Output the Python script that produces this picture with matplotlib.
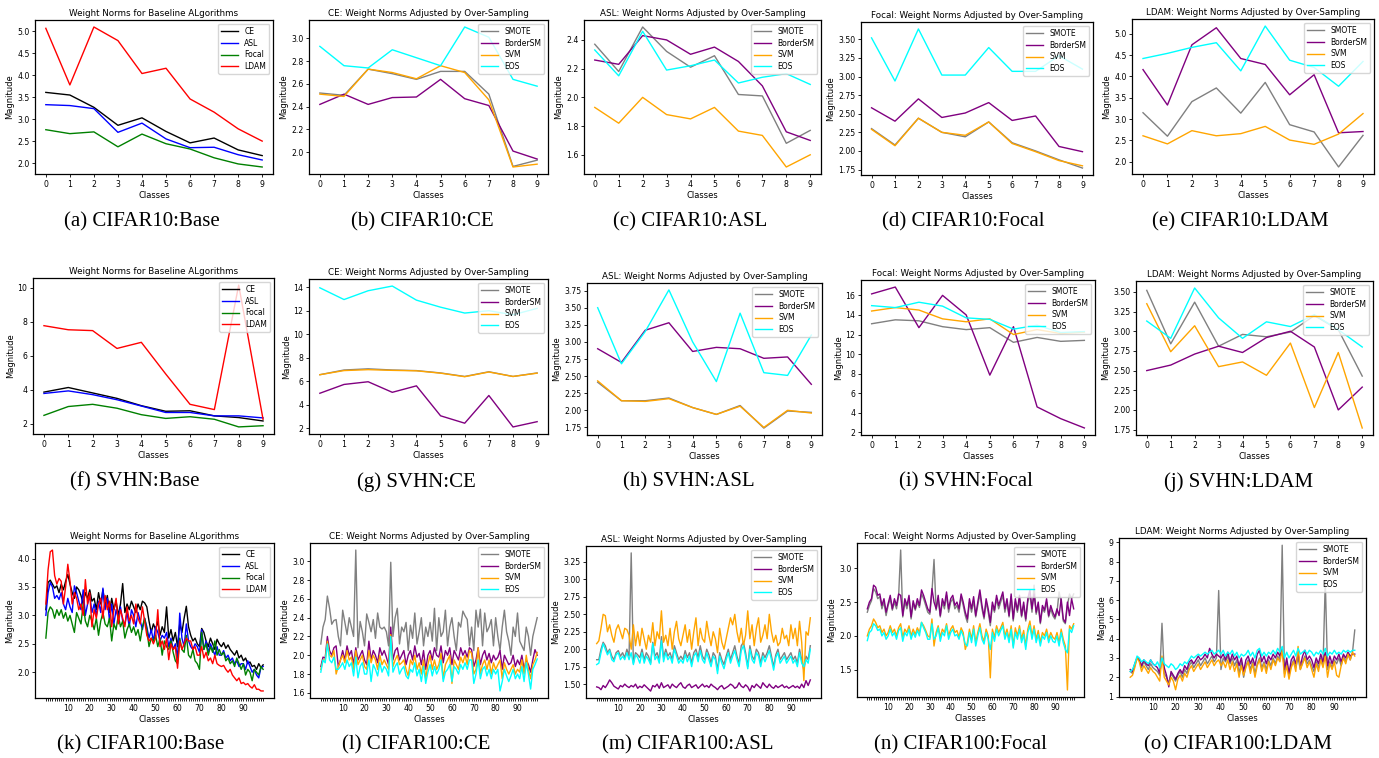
import matplotlib
matplotlib.use("Agg")
import matplotlib.pyplot as plt
from matplotlib.ticker import MultipleLocator

# ---------------- data ----------------
classes10 = list(range(10))
classes100 = list(range(100))

base_names = ["CE", "ASL", "Focal", "LDAM"]
os_names = ["SMOTE", "BorderSM", "SVM", "EOS"]

# CIFAR10
c10_base_ce = [3.61, 3.55, 3.27, 2.86, 3.03, 2.72, 2.46, 2.57, 2.30, 2.17]
c10_base_asl = [3.33, 3.31, 3.24, 2.70, 2.91, 2.55, 2.35, 2.36, 2.19, 2.07]
c10_base_focal = [2.76, 2.67, 2.71, 2.37, 2.66, 2.44, 2.32, 2.12, 1.98, 1.91]
c10_base_ldam = [5.07, 3.78, 5.10, 4.79, 4.04, 4.16, 3.46, 3.16, 2.78, 2.50]

c10_ce_smote = [2.52, 2.50, 2.73, 2.69, 2.64, 2.71, 2.71, 2.51, 1.875, 1.93]
c10_ce_border = [2.42, 2.51, 2.42, 2.48, 2.485, 2.64, 2.47, 2.41, 2.01, 1.94]
c10_ce_svm = [2.51, 2.49, 2.73, 2.70, 2.645, 2.76, 2.70, 2.46, 1.87, 1.895]
c10_ce_eos = [2.93, 2.76, 2.74, 2.90, 2.83, 2.76, 3.10, 3.01, 2.64, 2.58]

c10_asl_smote = [2.37, 2.18, 2.49, 2.32, 2.21, 2.29, 2.02, 2.01, 1.68, 1.77]
c10_asl_border = [2.26, 2.23, 2.43, 2.40, 2.30, 2.35, 2.25, 2.08, 1.76, 1.70]
c10_asl_svm = [1.93, 1.82, 2.00, 1.88, 1.85, 1.93, 1.765, 1.735, 1.515, 1.60]
c10_asl_eos = [2.33, 2.15, 2.46, 2.19, 2.22, 2.26, 2.10, 2.14, 2.165, 2.09]

c10_focal_smote = [2.30, 2.08, 2.44, 2.25, 2.19, 2.39, 2.11, 2.00, 1.88, 1.77]
c10_focal_border = [2.58, 2.40, 2.70, 2.45, 2.51, 2.65, 2.41, 2.47, 2.06, 1.99]
c10_focal_svm = [2.29, 2.07, 2.44, 2.25, 2.21, 2.39, 2.10, 1.99, 1.87, 1.80]
c10_focal_eos = [3.52, 2.94, 3.64, 3.02, 3.02, 3.39, 3.07, 3.07, 3.28, 3.10]

c10_ldam_smote = [3.15, 2.60, 3.41, 3.73, 3.14, 3.86, 2.87, 2.70, 1.88, 2.62]
c10_ldam_border = [4.16, 3.33, 4.74, 5.14, 4.42, 4.28, 3.57, 4.04, 2.68, 2.71]
c10_ldam_svm = [2.61, 2.42, 2.73, 2.61, 2.66, 2.83, 2.51, 2.41, 2.65, 3.13]
c10_ldam_eos = [4.42, 4.54, 4.68, 4.79, 4.13, 5.18, 4.38, 4.21, 3.77, 4.35]

# SVHN
svhn_base_ce = [3.85, 4.12, 3.80, 3.48, 3.05, 2.72, 2.75, 2.45, 2.35, 2.15]
svhn_base_asl = [3.77, 3.92, 3.70, 3.40, 3.03, 2.65, 2.65, 2.45, 2.45, 2.33]
svhn_base_focal = [2.48, 3.00, 3.13, 2.90, 2.52, 2.30, 2.40, 2.25, 1.80, 1.87]
svhn_base_ldam = [7.76, 7.52, 7.47, 6.42, 6.78, 4.92, 3.13, 2.82, 10.15, 2.25]

svhn_ce_smote = [6.55, 6.95, 7.05, 6.95, 6.90, 6.70, 6.40, 6.80, 6.40, 6.70]
svhn_ce_border = [4.97, 5.72, 5.95, 5.05, 5.60, 3.05, 2.42, 4.78, 2.10, 2.55]
svhn_ce_svm = [6.55, 6.90, 6.98, 6.92, 6.88, 6.68, 6.38, 6.78, 6.40, 6.68]
svhn_ce_eos = [13.95, 12.95, 13.70, 14.10, 12.90, 12.30, 11.80, 12.00, 11.65, 12.20]

svhn_asl_smote = [2.41, 2.14, 2.14, 2.18, 2.04, 1.94, 2.07, 1.74, 1.99, 1.97]
svhn_asl_border = [2.90, 2.70, 3.17, 3.28, 2.86, 2.92, 2.90, 2.76, 2.78, 2.38]
svhn_asl_svm = [2.43, 2.14, 2.13, 2.17, 2.04, 1.94, 2.06, 1.75, 2.00, 1.96]
svhn_asl_eos = [3.50, 2.68, 3.15, 3.76, 3.00, 2.42, 3.42, 2.55, 2.51, 3.10]

svhn_focal_smote = [13.1, 13.5, 13.4, 12.8, 12.5, 12.7, 11.2, 11.7, 11.3, 11.4]
svhn_focal_border = [16.15, 16.85, 12.7, 16.0, 14.0, 7.85, 12.8, 4.6, 3.4, 2.45]
svhn_focal_svm = [14.4, 14.75, 14.5, 13.6, 13.3, 13.6, 12.0, 12.5, 12.1, 12.25]
svhn_focal_eos = [14.95, 14.75, 15.3, 14.9, 13.7, 13.55, 12.55, 12.95, 12.2, 12.3]

svhn_ldam_smote = [3.52, 2.84, 3.37, 2.81, 2.96, 2.93, 2.99, 3.20, 3.02, 2.43]
svhn_ldam_border = [2.50, 2.57, 2.71, 2.81, 2.73, 2.92, 3.00, 2.80, 2.00, 2.29]
svhn_ldam_svm = [3.35, 2.74, 3.07, 2.55, 2.61, 2.44, 2.85, 2.03, 2.73, 1.77]
svhn_ldam_eos = [3.13, 2.91, 3.55, 3.17, 2.91, 3.12, 3.06, 3.21, 3.02, 2.80]

# CIFAR100 (100 classes)
c100_base_ce = [
    3.10, 3.58, 3.62, 3.55, 3.48, 3.52, 3.40, 3.55, 3.45, 3.60,
    3.72, 3.55, 3.40, 3.30, 3.50, 3.45, 3.35, 3.20, 3.40, 3.30,
    3.45, 3.25, 3.30, 3.10, 3.40, 3.20, 3.45, 3.15, 3.35, 3.05,
    3.30, 3.10, 3.25, 3.00, 3.20, 3.56, 3.05, 3.20, 3.10, 3.25,
    3.15, 3.05, 3.20, 3.10, 3.25, 3.22, 3.15, 2.90, 2.70, 2.85,
    2.75, 2.90, 2.65, 2.80, 2.70, 3.15, 2.60, 2.75, 2.55, 2.70,
    2.45, 2.85, 2.70, 2.95, 3.16, 2.80, 2.65, 2.55, 2.60, 2.50,
    2.45, 2.77, 2.70, 2.55, 2.45, 2.60, 2.50, 2.40, 2.58, 2.50,
    2.45, 2.52, 2.42, 2.48, 2.40, 2.35, 2.30, 2.38, 2.25, 2.30,
    2.20, 2.25, 2.15, 2.18, 2.10, 2.12, 2.05, 2.15, 2.08, 2.13]
c100_base_asl = [
    3.00, 3.40, 3.58, 3.50, 3.30, 3.35, 3.28, 3.40, 3.20, 3.10,
    3.30, 3.15, 3.05, 3.52, 3.40, 3.25, 3.10, 3.45, 3.00, 3.20,
    3.35, 3.05, 3.20, 3.00, 3.25, 3.05, 3.48, 3.10, 3.30, 2.90,
    3.20, 2.85, 3.10, 2.95, 3.15, 2.90, 2.85, 3.05, 2.80, 3.10,
    3.00, 2.80, 3.05, 2.90, 2.75, 2.95, 2.80, 2.60, 2.75, 2.55,
    2.80, 2.70, 2.55, 2.65, 2.60, 2.70, 2.45, 2.60, 2.40, 2.50,
    2.25, 3.04, 2.60, 2.45, 2.85, 2.55, 2.45, 2.40, 2.50, 2.45,
    2.35, 2.75, 2.40, 2.55, 2.35, 2.50, 2.40, 2.30, 2.45, 2.30,
    2.30, 2.38, 2.25, 2.30, 2.20, 2.25, 2.15, 2.20, 2.10, 2.15,
    2.15, 2.05, 2.20, 2.10, 2.00, 2.05, 1.95, 1.90, 2.08, 2.10]
c100_base_focal = [
    2.60, 3.05, 3.15, 3.10, 2.95, 3.10, 3.00, 3.10, 2.95, 3.05,
    2.90, 3.00, 2.85, 2.70, 3.05, 2.95, 2.85, 3.20, 2.90, 2.80,
    3.00, 2.90, 2.75, 2.95, 2.65, 2.90, 3.05, 2.85, 2.80, 2.95,
    2.55, 2.85, 2.75, 3.00, 2.80, 2.90, 2.60, 2.75, 2.85, 2.70,
    2.80, 2.65, 2.75, 2.55, 2.80, 2.95, 2.75, 2.45, 2.60, 2.55,
    2.65, 2.45, 2.60, 2.30, 2.55, 2.45, 2.40, 2.55, 2.35, 2.20,
    2.15, 2.60, 2.40, 2.35, 2.65, 2.30, 2.25, 2.40, 2.20, 2.15,
    2.05, 2.70, 2.40, 2.50, 2.30, 2.45, 2.35, 2.55, 2.30, 2.40,
    2.30, 2.35, 2.20, 2.25, 2.15, 2.20, 2.10, 2.25, 2.15, 2.05,
    2.15, 1.95, 2.05, 2.00, 1.85, 2.05, 2.00, 1.95, 2.10, 2.05]
c100_base_ldam = [
    3.20, 3.80, 4.12, 4.15, 3.70, 3.55, 3.65, 3.60, 3.20, 3.50,
    3.90, 3.60, 3.20, 3.40, 3.30, 3.10, 3.20, 3.00, 3.63, 3.20,
    3.40, 2.80, 3.10, 2.95, 3.20, 3.30, 2.95, 3.35, 3.10, 3.25,
    2.80, 3.10, 3.30, 2.85, 3.10, 2.95, 2.80, 3.15, 2.90, 3.00,
    2.85, 3.20, 2.95, 2.85, 3.15, 2.90, 2.65, 2.55, 2.60, 2.50,
    2.60, 3.10, 2.45, 2.55, 2.40, 2.60, 2.22, 2.50, 2.40, 2.45,
    2.07, 2.55, 2.40, 2.50, 2.60, 2.55, 2.55, 2.40, 2.45, 2.30,
    2.30, 2.45, 2.25, 2.35, 2.20, 2.25, 2.15, 2.30, 2.15, 2.12,
    2.10, 2.12, 2.05, 2.00, 2.05, 1.95, 1.90, 1.85, 1.90, 1.80,
    1.82, 1.78, 1.80, 1.75, 1.72, 1.78, 1.70, 1.70, 1.67, 1.67]

c100_ce_smote = [
    2.12, 2.30, 2.38, 2.63, 2.50, 2.33, 2.37, 2.38, 2.20, 2.10,
    2.48, 2.35, 2.22, 2.40, 2.30, 2.20, 3.12, 2.08, 2.36, 2.25,
    2.10, 2.44, 2.35, 2.25, 2.38, 2.18, 2.45, 2.30, 2.28, 2.30,
    2.25, 2.10, 2.99, 2.20, 2.40, 2.50, 2.12, 2.30, 2.25, 2.35,
    2.05, 2.32, 2.18, 2.45, 2.12, 2.25, 2.40, 2.10, 2.30, 2.20,
    2.35, 2.15, 2.50, 2.05, 2.40, 2.20, 2.25, 2.48, 2.10, 2.30,
    2.40, 2.20, 2.05, 2.35, 2.30, 2.47, 2.42, 2.38, 2.10, 2.30,
    2.05, 2.48, 2.30, 2.49, 2.10, 2.45, 2.25, 2.30, 2.38, 2.10,
    2.40, 2.20, 2.05, 2.30, 2.48, 2.25, 2.15, 2.00, 2.30, 2.20,
    2.45, 2.15, 2.10, 2.05, 2.30, 2.20, 2.00, 2.20, 2.30, 2.40]
c100_ce_border = [
    1.88, 1.98, 1.97, 2.20, 2.05, 2.00, 2.08, 2.10, 1.88, 1.95,
    2.05, 1.95, 2.10, 2.00, 2.05, 1.90, 2.08, 1.95, 2.00, 2.05,
    1.95, 1.90, 2.15, 1.95, 2.05, 2.00, 1.92, 2.08, 2.00, 2.05,
    1.98, 1.90, 2.30, 1.95, 2.05, 2.08, 1.95, 2.00, 2.05, 1.90,
    2.00, 2.05, 1.95, 2.10, 1.98, 2.02, 1.90, 2.05, 1.85, 2.00,
    2.05, 1.95, 2.08, 2.00, 1.98, 2.10, 1.92, 2.05, 2.00, 2.08,
    1.90, 2.05, 2.00, 1.95, 2.08, 2.00, 2.05, 1.98, 2.08, 2.06,
    1.88, 1.95, 2.08, 1.90, 2.00, 2.05, 1.95, 2.02, 1.92, 2.00,
    1.95, 1.98, 2.05, 1.85, 2.00, 1.95, 1.90, 1.92, 2.00, 1.88,
    1.95, 1.90, 2.00, 1.85, 1.95, 1.90, 1.82, 1.95, 2.06, 2.00]
c100_ce_svm = [
    1.85, 1.95, 1.95, 2.15, 2.00, 1.98, 2.05, 1.80, 1.88, 1.95,
    2.00, 1.92, 2.05, 1.95, 1.98, 1.85, 2.05, 1.90, 1.95, 2.00,
    1.88, 1.85, 2.05, 1.92, 2.00, 1.95, 1.85, 2.00, 1.90, 1.95,
    1.90, 1.85, 2.22, 1.88, 1.95, 2.00, 1.90, 1.92, 1.95, 1.85,
    1.78, 1.95, 1.90, 2.00, 1.85, 1.92, 1.80, 1.95, 1.75, 1.90,
    2.00, 1.85, 1.95, 1.85, 1.90, 2.02, 1.75, 1.90, 1.95, 2.00,
    1.70, 1.95, 1.90, 1.85, 1.98, 1.92, 2.00, 1.90, 2.05, 2.02,
    1.80, 1.85, 2.08, 1.80, 1.90, 1.95, 1.85, 1.95, 1.80, 1.92,
    1.85, 1.90, 1.95, 1.75, 1.92, 1.85, 1.80, 1.85, 1.90, 1.80,
    1.85, 1.82, 1.95, 1.80, 2.00, 1.85, 1.75, 1.90, 1.95, 2.03]
c100_ce_eos = [
    1.82, 1.95, 1.92, 2.12, 1.95, 1.92, 1.98, 1.85, 1.85, 1.88,
    1.92, 1.85, 1.95, 1.88, 1.92, 1.78, 1.98, 1.76, 1.88, 1.92,
    1.80, 1.80, 1.95, 1.72, 1.90, 1.85, 1.78, 1.92, 1.82, 1.88,
    1.85, 1.78, 2.20, 1.82, 1.88, 1.92, 1.80, 1.85, 1.88, 1.78,
    1.75, 1.85, 1.82, 1.92, 1.78, 1.85, 1.72, 1.88, 1.70, 1.82,
    1.90, 1.78, 1.88, 1.80, 1.85, 1.95, 1.72, 1.82, 1.85, 1.90,
    1.72, 1.88, 1.85, 1.80, 1.90, 1.85, 1.92, 1.85, 1.95, 1.95,
    1.70, 1.80, 1.95, 1.75, 1.85, 1.88, 1.78, 1.85, 1.75, 1.85,
    1.80, 1.85, 1.62, 1.72, 1.85, 1.78, 1.72, 1.78, 1.85, 1.75,
    1.80, 1.75, 1.88, 1.72, 1.92, 1.80, 1.64, 1.85, 1.90, 1.96]

c100_asl_smote = [
    1.85, 1.85, 2.00, 2.10, 2.05, 1.95, 2.00, 1.90, 1.85, 1.95,
    1.98, 1.90, 1.95, 1.88, 2.00, 1.90, 3.38, 1.80, 1.95, 1.92,
    1.88, 2.00, 1.85, 1.95, 1.90, 1.80, 2.10, 1.90, 1.95, 1.85,
    2.18, 1.88, 2.00, 1.90, 1.95, 1.85, 2.05, 1.95, 1.85, 1.90,
    1.85, 1.98, 1.88, 1.95, 1.80, 1.95, 2.00, 1.88, 2.05, 1.90,
    1.85, 2.00, 1.92, 1.80, 1.95, 1.90, 1.70, 1.95, 1.85, 1.78,
    1.90, 2.00, 1.85, 1.95, 2.05, 1.90, 1.80, 2.05, 2.10, 1.95,
    1.75, 2.05, 1.90, 1.85, 2.00, 1.95, 1.80, 1.95, 1.88, 1.95,
    2.05, 1.90, 1.75, 1.92, 2.00, 1.85, 1.90, 1.95, 1.85, 1.90,
    1.95, 1.85, 1.90, 1.80, 2.00, 1.85, 1.70, 1.90, 1.85, 2.05]
c100_asl_border = [
    1.46, 1.45, 1.42, 1.48, 1.45, 1.50, 1.56, 1.52, 1.47, 1.45,
    1.43, 1.48, 1.46, 1.50, 1.47, 1.45, 1.48, 1.46, 1.50, 1.44,
    1.47, 1.45, 1.49, 1.46, 1.43, 1.40, 1.48, 1.46, 1.50, 1.44,
    1.52, 1.45, 1.47, 1.49, 1.44, 1.50, 1.47, 1.45, 1.49, 1.52,
    1.46, 1.44, 1.48, 1.50, 1.45, 1.47, 1.49, 1.44, 1.47, 1.50,
    1.46, 1.48, 1.45, 1.50, 1.47, 1.45, 1.42, 1.46, 1.48, 1.43,
    1.45, 1.47, 1.50, 1.48, 1.44, 1.46, 1.52, 1.47, 1.45, 1.49,
    1.46, 1.40, 1.48, 1.45, 1.50, 1.47, 1.44, 1.52, 1.48, 1.45,
    1.50, 1.46, 1.44, 1.48, 1.45, 1.47, 1.49, 1.45, 1.47, 1.44,
    1.46, 1.48, 1.45, 1.47, 1.44, 1.50, 1.45, 1.55, 1.48, 1.56]
c100_asl_svm = [
    2.08, 2.12, 2.30, 2.50, 2.48, 2.25, 2.35, 2.20, 2.10, 2.28,
    2.35, 2.25, 2.15, 2.30, 2.28, 2.20, 2.00, 2.35, 2.05, 2.25,
    2.05, 2.30, 2.15, 2.00, 2.20, 2.10, 2.38, 2.05, 2.25, 2.15,
    2.55, 2.10, 2.20, 2.05, 2.30, 2.00, 2.25, 2.40, 2.15, 2.05,
    2.20, 2.35, 2.10, 2.28, 2.00, 2.25, 2.45, 2.05, 2.30, 2.15,
    2.10, 2.40, 2.20, 2.05, 2.25, 2.15, 1.95, 2.30, 2.10, 2.00,
    2.15, 2.30, 2.45, 2.35, 2.50, 2.25, 2.10, 2.30, 2.05, 2.20,
    2.55, 2.15, 2.35, 2.05, 2.30, 2.45, 2.10, 2.20, 2.35, 2.15,
    2.50, 2.25, 2.10, 2.20, 2.05, 2.10, 2.30, 2.15, 2.20, 2.05,
    2.35, 2.15, 2.30, 2.05, 2.40, 2.10, 1.55, 2.25, 2.20, 2.45]
c100_asl_eos = [
    1.78, 1.80, 1.95, 2.08, 2.00, 1.92, 1.98, 1.85, 1.82, 1.92,
    1.95, 1.85, 1.90, 1.85, 1.95, 1.85, 1.95, 1.78, 1.92, 1.88,
    1.80, 1.95, 1.80, 1.90, 1.85, 1.78, 2.08, 1.85, 1.90, 1.80,
    2.12, 1.82, 1.95, 1.85, 1.90, 1.80, 2.00, 1.90, 1.80, 1.85,
    1.80, 1.92, 1.82, 1.90, 1.75, 1.90, 1.95, 1.82, 1.98, 1.85,
    1.80, 1.95, 1.85, 1.75, 1.90, 1.85, 1.65, 1.90, 1.80, 1.72,
    1.85, 1.95, 1.80, 1.90, 1.98, 1.85, 1.75, 1.98, 2.05, 1.90,
    1.72, 2.00, 1.85, 1.80, 1.95, 1.90, 1.75, 1.90, 1.82, 1.90,
    1.98, 1.85, 1.70, 1.88, 1.95, 1.80, 1.85, 1.90, 1.80, 1.85,
    1.90, 1.80, 1.85, 1.75, 1.95, 1.80, 1.75, 1.85, 1.80, 2.00]

c100_focal_smote = [
    2.35, 2.45, 2.52, 2.70, 2.65, 2.55, 2.58, 2.40, 2.50, 2.30,
    2.45, 2.55, 2.38, 2.50, 2.40, 2.58, 3.27, 2.28, 2.50, 2.40,
    2.55, 2.25, 2.48, 2.38, 2.50, 2.42, 2.62, 2.55, 2.45, 2.35,
    2.32, 2.65, 3.13, 2.38, 2.55, 2.28, 2.50, 2.40, 2.60, 2.35,
    2.50, 2.55, 2.40, 2.45, 2.35, 2.58, 2.45, 2.30, 2.20, 2.50,
    2.35, 2.52, 2.28, 2.45, 2.62, 2.40, 2.25, 2.50, 2.35, 2.15,
    2.45, 2.35, 2.55, 2.40, 2.50, 2.60, 2.35, 2.50, 2.28, 2.58,
    2.22, 2.50, 2.35, 2.55, 2.28, 2.45, 2.22, 2.50, 2.62, 2.35,
    2.75, 2.32, 2.45, 2.18, 2.40, 2.35, 2.50, 2.28, 2.40, 2.30,
    2.25, 2.35, 2.65, 2.50, 2.22, 2.18, 2.45, 2.62, 2.55, 2.62]
c100_focal_border = [
    2.40, 2.50, 2.55, 2.75, 2.72, 2.60, 2.62, 2.45, 2.55, 2.35,
    2.48, 2.60, 2.40, 2.55, 2.45, 2.62, 2.60, 2.30, 2.55, 2.45,
    2.60, 2.28, 2.52, 2.40, 2.55, 2.45, 2.68, 2.60, 2.50, 2.40,
    2.35, 2.70, 2.50, 2.40, 2.60, 2.30, 2.55, 2.45, 2.65, 2.40,
    2.55, 2.60, 2.45, 2.50, 2.40, 2.62, 2.50, 2.35, 2.25, 2.55,
    2.40, 2.58, 2.30, 2.50, 2.68, 2.45, 2.28, 2.55, 2.40, 2.20,
    2.50, 2.38, 2.60, 2.45, 2.55, 2.65, 2.40, 2.55, 2.30, 2.62,
    2.25, 2.55, 2.38, 2.60, 2.30, 2.50, 2.25, 2.55, 2.68, 2.40,
    2.62, 2.35, 2.50, 2.20, 2.45, 2.38, 2.55, 2.30, 2.45, 2.35,
    2.28, 2.40, 2.30, 2.55, 2.25, 2.20, 2.50, 2.30, 2.55, 2.40]
c100_focal_svm = [
    2.00, 2.10, 2.15, 2.25, 2.20, 2.12, 2.15, 2.05, 2.10, 2.00,
    2.05, 2.15, 2.05, 2.10, 2.00, 2.12, 2.18, 1.98, 2.10, 2.05,
    2.15, 2.00, 2.10, 2.02, 2.12, 2.05, 2.20, 2.15, 2.08, 2.00,
    1.98, 2.25, 1.85, 2.05, 2.15, 1.98, 2.10, 2.05, 2.18, 2.00,
    2.10, 2.15, 2.05, 2.08, 1.98, 2.12, 2.05, 1.80, 1.90, 2.10,
    1.95, 2.15, 1.90, 2.05, 2.18, 2.00, 1.92, 2.10, 2.00, 1.38,
    2.10, 1.98, 2.15, 2.05, 2.12, 2.20, 2.00, 2.10, 1.95, 2.15,
    1.85, 2.12, 2.00, 2.15, 1.95, 2.08, 1.85, 2.10, 2.22, 2.00,
    2.15, 1.95, 2.08, 1.90, 2.05, 2.00, 2.10, 1.95, 2.05, 1.98,
    1.95, 2.05, 1.90, 2.10, 1.95, 1.85, 1.20, 2.15, 2.10, 2.18]
c100_focal_eos = [
    1.93, 2.05, 2.08, 2.18, 2.15, 2.08, 2.10, 2.00, 2.05, 1.95,
    2.00, 2.10, 2.00, 2.05, 1.95, 2.08, 2.12, 1.92, 2.05, 2.00,
    2.10, 1.95, 2.05, 1.98, 2.08, 2.00, 2.20, 2.12, 2.05, 1.95,
    1.95, 2.18, 1.95, 2.00, 2.12, 1.92, 2.05, 2.00, 2.15, 1.95,
    2.05, 2.10, 2.00, 2.02, 1.95, 2.08, 2.00, 1.88, 1.85, 2.05,
    1.90, 2.10, 1.85, 2.00, 2.12, 1.95, 1.88, 2.05, 1.95, 1.80,
    2.05, 1.92, 2.10, 2.00, 2.08, 2.15, 1.95, 2.05, 1.90, 2.10,
    1.82, 2.05, 1.95, 2.10, 1.90, 2.02, 1.80, 2.05, 2.15, 1.95,
    2.10, 1.90, 2.02, 1.85, 2.00, 1.95, 2.05, 1.90, 2.00, 1.92,
    1.90, 2.00, 1.85, 2.05, 1.90, 1.80, 1.75, 2.10, 2.05, 2.15]

c100_ldam_smote = [
    2.30, 2.20, 2.60, 3.00, 2.90, 2.50, 2.80, 2.60, 2.40, 2.70,
    2.50, 2.40, 2.30, 2.10, 4.80, 2.20, 2.00, 1.70, 2.20, 2.00,
    1.80, 2.10, 2.30, 2.00, 2.40, 2.20, 2.60, 2.80, 2.50, 2.70,
    2.90, 2.60, 2.80, 3.00, 2.70, 2.90, 3.10, 2.80, 3.00, 6.50,
    2.40, 3.00, 2.80, 3.10, 2.70, 3.00, 2.60, 2.90, 2.20, 2.80,
    2.00, 2.60, 2.90, 2.40, 2.80, 2.20, 2.70, 3.00, 2.50, 2.80,
    2.40, 2.90, 2.60, 3.00, 2.70, 3.10, 2.90, 8.85, 2.20, 2.80,
    2.10, 2.60, 2.90, 2.50, 3.00, 2.40, 2.80, 3.10, 2.70, 2.90,
    2.60, 2.30, 2.80, 2.50, 3.00, 2.60, 7.00, 2.40, 2.80, 2.50,
    2.90, 2.70, 3.00, 2.60, 3.10, 2.80, 3.20, 2.90, 3.30, 4.45]
c100_ldam_border = [
    2.40, 2.30, 2.70, 3.00, 2.90, 2.60, 2.90, 2.70, 2.60, 2.90,
    2.70, 2.60, 2.50, 2.20, 3.00, 2.50, 2.10, 1.50, 2.30, 2.10,
    1.90, 2.20, 2.40, 2.20, 2.60, 2.40, 2.80, 2.90, 2.70, 2.90,
    3.10, 2.90, 3.00, 3.20, 3.00, 3.50, 3.20, 3.00, 3.20, 3.10,
    3.00, 3.20, 2.90, 3.30, 2.80, 3.20, 2.90, 3.10, 2.60, 3.00,
    2.30, 2.90, 3.10, 2.70, 3.00, 2.60, 3.20, 3.40, 2.80, 3.10,
    2.70, 3.10, 2.90, 3.20, 3.00, 3.30, 3.10, 3.50, 2.40, 3.00,
    2.20, 2.90, 3.10, 2.70, 3.20, 2.60, 3.10, 3.40, 2.90, 3.10,
    2.90, 2.50, 3.00, 2.70, 3.20, 2.80, 3.30, 2.60, 3.10, 2.70,
    3.10, 2.90, 3.20, 2.80, 3.20, 3.00, 3.30, 3.10, 3.20, 3.20]
c100_ldam_svm = [
    2.00, 2.10, 2.50, 3.00, 2.80, 2.30, 2.60, 2.40, 2.20, 2.50,
    2.30, 2.20, 2.00, 1.80, 3.10, 2.00, 1.80, 1.60, 2.00, 1.80,
    1.35, 1.90, 2.10, 1.80, 2.20, 2.00, 2.40, 2.60, 2.30, 2.50,
    2.70, 2.40, 2.60, 2.80, 2.50, 2.70, 2.90, 2.60, 2.80, 2.90,
    2.60, 2.80, 2.50, 2.90, 2.40, 2.80, 2.30, 2.70, 2.00, 2.60,
    2.10, 2.50, 2.80, 2.20, 2.70, 2.00, 2.60, 2.90, 2.30, 2.70,
    2.20, 2.80, 2.40, 2.90, 2.60, 3.00, 2.80, 3.40, 2.00, 2.60,
    1.90, 2.50, 2.80, 2.30, 3.60, 2.40, 2.70, 3.00, 2.50, 2.80,
    2.40, 2.00, 2.70, 2.30, 2.90, 2.50, 3.10, 2.00, 2.70, 2.40,
    2.80, 2.10, 2.00, 2.60, 3.00, 2.70, 3.20, 2.90, 3.30, 3.10]
c100_ldam_eos = [
    2.30, 2.40, 2.70, 3.10, 3.00, 2.80, 2.90, 2.80, 2.70, 2.90,
    2.70, 2.60, 2.80, 2.50, 3.00, 2.70, 2.60, 2.50, 2.70, 2.60,
    2.40, 2.50, 2.70, 2.60, 2.80, 2.70, 2.90, 3.10, 3.00, 3.10,
    3.20, 3.10, 3.20, 3.30, 3.20, 3.30, 3.40, 3.20, 3.30, 3.40,
    3.20, 3.40, 3.10, 3.30, 3.20, 3.40, 3.10, 3.30, 3.00, 3.20,
    3.10, 3.20, 3.40, 3.10, 3.30, 3.00, 3.40, 3.50, 3.10, 3.30,
    3.10, 3.30, 3.20, 3.40, 3.20, 3.50, 3.30, 3.60, 3.00, 3.30,
    3.00, 3.20, 3.40, 3.10, 3.50, 3.20, 3.30, 3.40, 3.20, 3.40,
    3.30, 3.10, 3.30, 3.20, 3.40, 3.20, 3.50, 3.10, 3.30, 3.20,
    3.40, 3.20, 3.30, 3.20, 3.40, 3.30, 3.40, 3.30, 3.40, 3.40]

base_colors = ["black", "blue", "green", "red"]
os_colors = ["gray", "purple", "orange", "cyan"]

title_base = "Weight Norms for Baseline ALgorithms"
title_os = "{}: Weight Norms Adjusted by Over-Sampling"

# panel specs: (caption, title, series, names, colors, x, y step, box px (l,t,r,b), caption x)
panels = [
    ("(a) CIFAR10:Base", title_base, [c10_base_ce, c10_base_asl, c10_base_focal, c10_base_ldam],
     base_names, base_colors, classes10, 0.5, (35, 20, 273, 174), 142),
    ("(b) CIFAR10:CE", title_os.format("CE"), [c10_ce_smote, c10_ce_border, c10_ce_svm, c10_ce_eos],
     os_names, os_colors, classes10, 0.2, (309, 20, 548, 174), 422),
    ("(c) CIFAR10:ASL", title_os.format("ASL"), [c10_asl_smote, c10_asl_border, c10_asl_svm, c10_asl_eos],
     os_names, os_colors, classes10, 0.2, (584, 20, 821, 174), 690),
    ("(d) CIFAR10:Focal", title_os.format("Focal"), [c10_focal_smote, c10_focal_border, c10_focal_svm, c10_focal_eos],
     os_names, os_colors, classes10, 0.25, (861, 22, 1093, 175), 963),
    ("(e) CIFAR10:LDAM", title_os.format("LDAM"), [c10_ldam_smote, c10_ldam_border, c10_ldam_svm, c10_ldam_eos],
     os_names, os_colors, classes10, 0.5, (1132, 19, 1374, 174), 1240),
    ("(f) SVHN:Base", title_base, [svhn_base_ce, svhn_base_asl, svhn_base_focal, svhn_base_ldam],
     base_names, base_colors, classes10, 2, (33, 278, 274, 434), 135),
    ("(g) SVHN:CE", title_os.format("CE"), [svhn_ce_smote, svhn_ce_border, svhn_ce_svm, svhn_ce_eos],
     os_names, os_colors, classes10, 2, (309, 279, 548, 434), 416),
    ("(h) SVHN:ASL", title_os.format("ASL"), [svhn_asl_smote, svhn_asl_border, svhn_asl_svm, svhn_asl_eos],
     os_names, os_colors, classes10, 0.25, (587, 283, 822, 435), 689),
    ("(i) SVHN:Focal", title_os.format("Focal"), [svhn_focal_smote, svhn_focal_border, svhn_focal_svm, svhn_focal_eos],
     os_names, os_colors, classes10, 2, (861, 280, 1095, 435), 966),
    ("(j) SVHN:LDAM", title_os.format("LDAM"), [svhn_ldam_smote, svhn_ldam_border, svhn_ldam_svm, svhn_ldam_eos],
     os_names, os_colors, classes10, 0.25, (1136, 281, 1373, 435), 1239),
    ("(k) CIFAR100:Base", title_base, [c100_base_ce, c100_base_asl, c100_base_focal, c100_base_ldam],
     base_names, base_colors, classes100, 0.5, (35, 543, 274, 698), 141),
    ("(l) CIFAR100:CE", title_os.format("CE"), [c100_ce_smote, c100_ce_border, c100_ce_svm, c100_ce_eos],
     os_names, os_colors, classes100, 0.2, (310, 543, 548, 698), 416),
    ("(m) CIFAR100:ASL", title_os.format("ASL"), [c100_asl_smote, c100_asl_border, c100_asl_svm, c100_asl_eos],
     os_names, os_colors, classes100, 0.25, (586, 546, 821, 698), 688),
    ("(n) CIFAR100:Focal", title_os.format("Focal"), [c100_focal_smote, c100_focal_border, c100_focal_svm, c100_focal_eos],
     os_names, os_colors, classes100, 0.5, (857, 543, 1084, 697), 960),
    ("(o) CIFAR100:LDAM", title_os.format("LDAM"), [c100_ldam_smote, c100_ldam_border, c100_ldam_svm, c100_ldam_eos],
     os_names, os_colors, classes100, 1, (1119, 538, 1366, 697), 1238),
]

W, H = 1379, 758
fig = plt.figure(figsize=(W / 100, H / 100), dpi=100)

for cap, title, series, names, colors, xs, ystep, box, capx in panels:
    l, t, r, b = box
    ax = fig.add_axes([l / W, 1 - b / H, (r - l) / W, (b - t) / H])
    for ys, name, c in zip(series, names, colors):
        ax.plot(xs, ys, color=c, lw=1.0, label=name)
    ax.set_title(title, fontsize=6.3, pad=3)
    ax.set_xlabel("Classes", fontsize=6, labelpad=1.5)
    ax.set_ylabel("Magnitude", fontsize=6, labelpad=2)
    ax.yaxis.set_major_locator(MultipleLocator(ystep))
    ax.set_xticks(xs)
    if len(xs) > 10:
        ax.set_xticklabels([str(i) if i % 10 == 0 and i > 0 else "" for i in xs])
    ax.tick_params(labelsize=5.6, length=2.5, width=0.6, pad=1.5)
    for s in ax.spines.values():
        s.set_linewidth(0.9)
    ax.legend(loc="upper right", fontsize=5.5, handlelength=2.2, borderpad=0.4,
              labelspacing=0.35, framealpha=0.8)
    if len(xs) == 10:
        cap_y = 222 if t < 100 else 482
    else:
        cap_y = 745
    fig.text(capx / W, 1 - cap_y / H, cap, ha="center", va="center",
             fontsize=15, family="Liberation Serif")

fig.savefig("out.png", dpi=100)
